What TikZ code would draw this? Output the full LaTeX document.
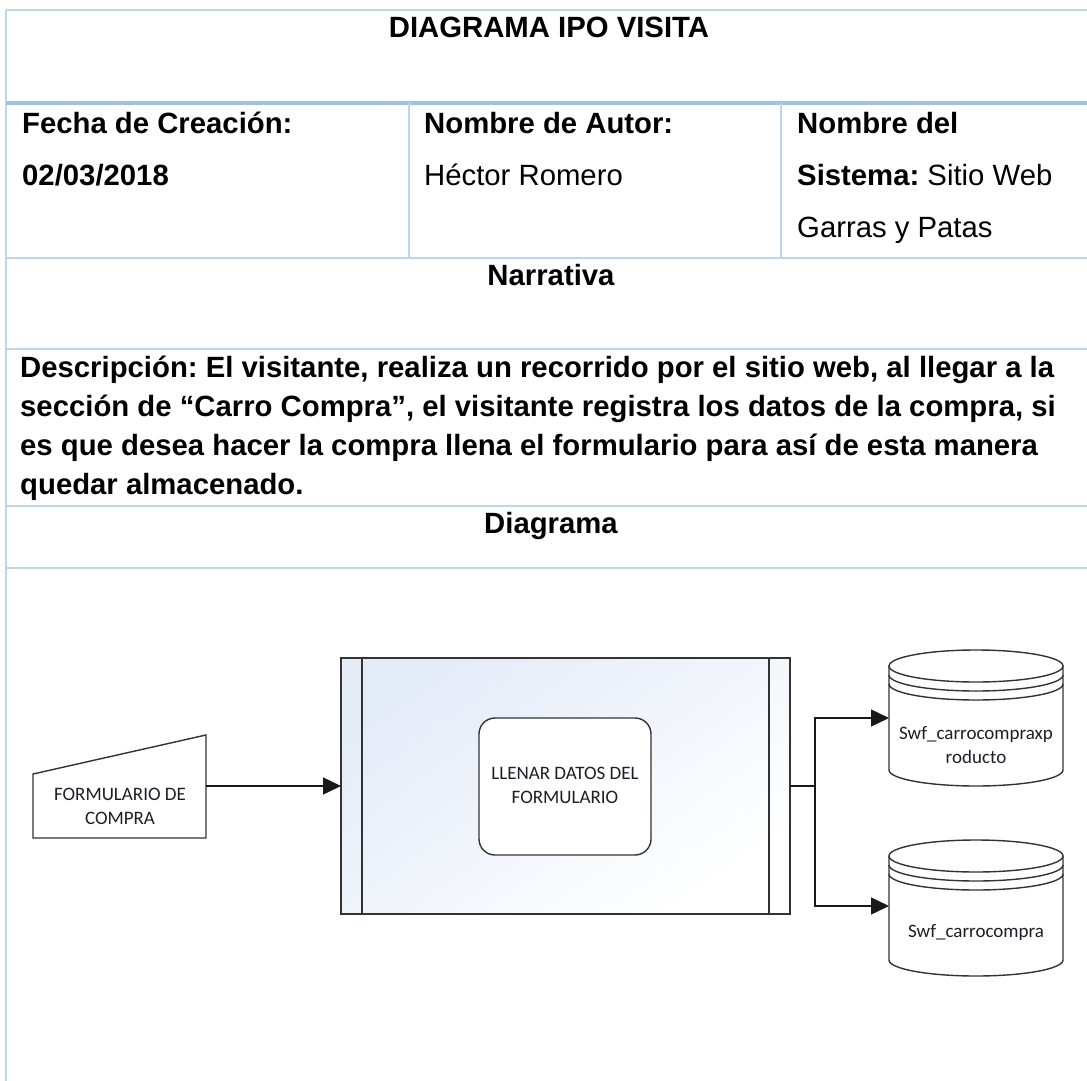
\documentclass[tikz,border=0pt]{standalone}
\usepackage{fontspec}
\setmainfont{Liberation Sans}
\newfontfamily\diagfont{Carlito}
\usetikzlibrary{arrows.meta}
\definecolor{tblline}{RGB}{189,214,238}
\definecolor{tblthick}{RGB}{157,195,230}
\definecolor{procfill}{RGB}{228,236,248}
\definecolor{diagtext}{RGB}{30,30,40}
\frenchspacing
\tikzset{
  tbl/.style={draw=tblline, line width=2pt},
  tblbold/.style={draw=tblthick, line width=3.5pt},
  big/.style={font=\fontsize{29.3}{39}\selectfont, inner sep=0pt, anchor=base west},
  bigb/.style={big, font=\fontsize{29.3}{39}\selectfont\bfseries},
  bigc/.style={font=\fontsize{29.3}{39}\selectfont\bfseries, inner sep=0pt, anchor=base},
  shp/.style={draw=black!80, line width=1.4pt},
  dtext/.style={font=\diagfont\fontsize{19}{23.5}\selectfont, text=diagtext, align=center, inner sep=0pt},
  flow/.style={line width=1.4pt, draw=black!90, -{Triangle[length=18pt,width=17pt]}},
  flowplain/.style={line width=1.4pt, draw=black!90},
  ghost/.style={inner sep=0pt, outer sep=0pt},
  dbcyl/.pic={
    \draw[shp, fill=white] (-87,0) -- (-87,104)
      .. controls (-87,112.84) and (-48.05,120) .. (0,120)
      .. controls (48.05,120) and (87,112.84) .. (87,104) -- (87,0);
    \draw[shp, fill=white] (0,0) ellipse [x radius=87, y radius=16];
    \draw[shp] (-87,9) .. controls (-87,17.84) and (-48.05,25) .. (0,25)
      .. controls (48.05,25) and (87,17.84) .. (87,9);
    \draw[shp] (-87,18) .. controls (-87,26.84) and (-48.05,34) .. (0,34)
      .. controls (48.05,34) and (87,26.84) .. (87,18);
  }
}
\begin{document}
\begin{tikzpicture}[x=1pt,y=-1pt]
\useasboundingbox (0,0) rectangle (1087,1081);
\fill[white] (0,0) rectangle (1087,1081);

% ---------- table grid ----------
\draw[tbl] (6,10) -- (1087,10);
\draw[tbl] (6,10) -- (6,1081);
\draw[tblbold] (6,103) -- (1087,103);
\draw[tbl] (409,103) -- (409,258);
\draw[tbl] (781,103) -- (781,258);
\draw[tbl] (6,258) -- (1087,258);
\draw[tbl] (6,349) -- (1087,349);
\draw[tbl] (6,506) -- (1087,506);
\draw[tbl] (6,568) -- (1087,568);

% ---------- table texts ----------
\node[bigc] (title) at (549,38) {DIAGRAMA IPO VISITA};

\node[bigb] (fecha) at (22,133) {Fecha de Creación:};
\node[bigb] (fechav) at (22,185) {02/03/2018};
\node[bigb] (autor) at (424,133) {Nombre de Autor:};
\node[big] (autorv) at (424,185) {Héctor Romero};
\node[bigb] (sist) at (797,133) {Nombre del};
\node[big] (sistv) at (797,185) {\textbf{Sistema:} Sitio Web};
\node[big] (sistv2) at (797,237) {Garras y Patas};

\node[bigc] (narr) at (551,285) {Narrativa};

\node[bigb] (d1) at (20,377) {Descripción: El visitante, realiza un recorrido por el sitio web, al llegar a la};
\node[bigb] (d2) at (20,416) {sección de “Carro Compra”, el visitante registra los datos de la compra, si};
\node[bigb] (d3) at (20,455) {es que desea hacer la compra llena el formulario para así de esta manera};
\node[bigb] (d4) at (20,494) {quedar almacenado.};

\node[bigc] (diag) at (551,533) {Diagrama};

% ---------- diagram ----------
\draw[shp, fill=white] (33,774) -- (206,735) -- (206,838) -- (33,838) -- cycle;
\node[ghost, minimum width=173pt, minimum height=103pt] (form) at (119.5,786) {};
\node[dtext] (formtxt) at (120,806.5) {FORMULARIO DE\\COMPRA};

\node[shp, ghost, minimum width=449pt, minimum height=256pt,
      top color=procfill, bottom color=white, shading angle=35] (proc) at (565.5,786) {};
\draw[shp] ([xshift=21pt]proc.north west) -- ([xshift=21pt]proc.south west);
\draw[shp] ([xshift=-21pt]proc.north east) -- ([xshift=-21pt]proc.south east);

\node[shp, fill=white, rounded corners=16pt, minimum width=172pt, minimum height=137pt, ghost] (act) at (565,786.5) {};
\node[dtext] (acttxt) at (565,785.5) {LLENAR DATOS DEL\\FORMULARIO};

\pic at (976,666) {dbcyl};
\node[ghost, minimum width=174pt, minimum height=136pt] (db1) at (976,718) {};
\node[dtext] (db1txt) at (976,745) {Swf\_carrocompraxp\\roducto};

\pic at (976,856) {dbcyl};
\node[ghost, minimum width=174pt, minimum height=136pt] (db2) at (976,906) {};
\node[dtext] (db2txt) at (976,933) {Swf\_carrocompra};

\coordinate (j) at (815,786);
\draw[flow] (form.east) -- (proc.west);
\draw[flowplain] (proc.east) -- (j);
\draw[flow] (j) |- (db1.west);
\draw[flow] (j) |- (db2.west);
\end{tikzpicture}
\end{document}
